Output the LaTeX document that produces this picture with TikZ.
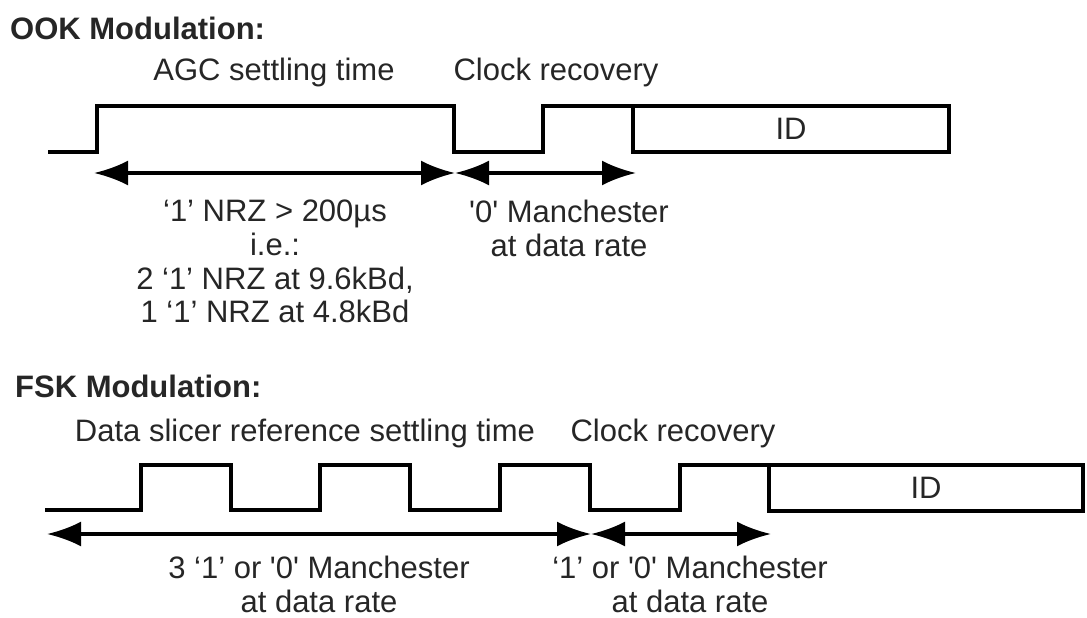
\documentclass[tikz,border=0pt]{standalone}
\usepackage{fontspec}
\setmainfont{Liberation Sans}
\usetikzlibrary{arrows.meta,positioning}
\tikzset{
    %Define standard arrow tip
    >={Latex[length=34pt,width=25pt]},
    % Define span arrow style
    span/.style={
           <->,
           line width=3.5pt},
    % Define signal style
    wave/.style={
           line width=4pt,
           line join=miter},
    lbl/.style={text=black!85, inner sep=0pt,
           font=\fontsize{31}{33.7}\selectfont, align=center},
    heading/.style={lbl, anchor=west,
           font=\fontsize{31}{33.7}\selectfont\bfseries}
}
\newcommand{\sq}{\textquotesingle}

\begin{document}
\begin{tikzpicture}[
x=1pt, y=-1pt,
idbox/.style={draw, line width=4pt, outer sep=0pt, inner sep=0pt, lbl, minimum height=46pt},
]
\useasboundingbox (0,0) rectangle (1087,618);

%OOK
\node[heading](ookT) at (10,28){OOK Modulation:};
\node[lbl](agc) at (274,72){AGC settling time};
\node[lbl](ookClk) at (556,72){Clock recovery};

\node[idbox, minimum width=316pt](ookID) at (791,129){ID};
\coordinate (ookA) at (48,152);
\draw[wave] (ookA) -| (97,106) -| (454,152) -| (543,106) -| (ookID.south west);

\coordinate (ookS0) at (94,173);
\coordinate (ookS1) at (455,173);
\coordinate (ookS2) at (636,173);
\draw[span] (ookS0) -- (ookS1);
\draw[span] (ookS1) -- (ookS2);

\node[lbl, anchor=north](nrz) at (275,200){‘1’ NRZ > 200µs\\i.e.:\\2 ‘1’ NRZ at 9.6kBd,\\1 ‘1’ NRZ at 4.8kBd};
\node[lbl, anchor=north](ookMan) at (569,200){\sq0\sq{} Manchester\\at data rate};

%FSK
\node[heading](fskT) at (15,386){FSK Modulation:};
\node[lbl](slicer) at (305,433){Data slicer reference settling time};
\node[lbl](fskClk) at (673,433){Clock recovery};

\node[idbox, minimum width=314pt](fskID) at (926,487.5){ID};
\coordinate (fskA) at (45,510);
\draw[wave] (fskA) -| (141,465) -| (231,510) -| (320,465) -| (410,510)
    -| (500,465) -| (590,510) -| (680,465) -| (fskID.south west);

\coordinate (fskS0) at (47,534);
\coordinate (fskS1) at (591,534);
\coordinate (fskS2) at (771,534);
\draw[span] (fskS0) -- (fskS1);
\draw[span] (fskS1) -- (fskS2);

\node[lbl, anchor=north](fskMan) at (319,556){3 ‘1’ or \sq0\sq{} Manchester\\at data rate};
\node[lbl, anchor=north](fskMan2) at (690,556){‘1’ or \sq0\sq{} Manchester\\at data rate};

\end{tikzpicture}
\end{document}
